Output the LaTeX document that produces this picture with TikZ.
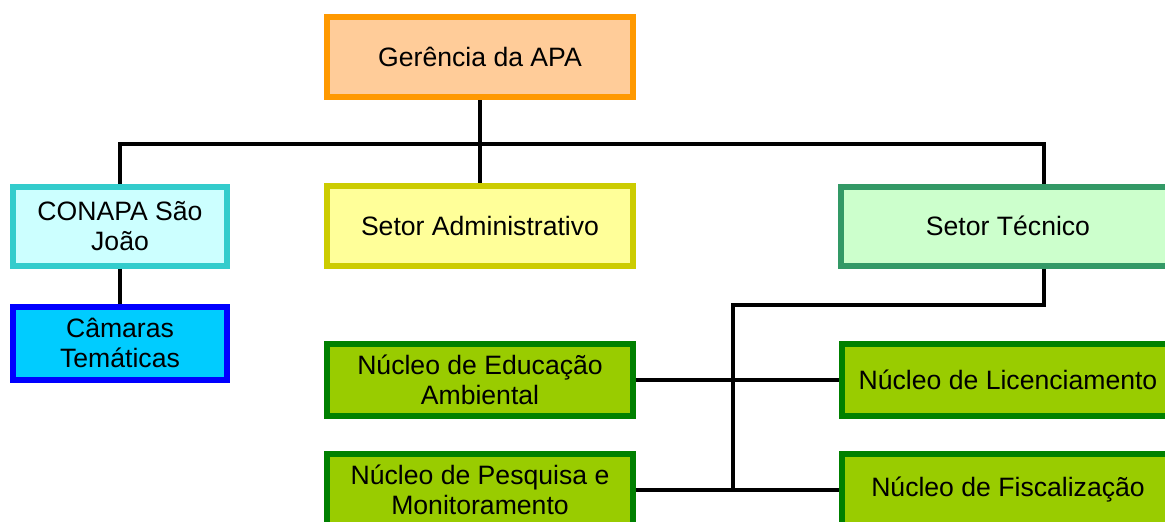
\documentclass[tikz,border=0pt]{standalone}
\usepackage{fontspec}
\setmainfont{Liberation Sans}
\usepackage{xcolor}
\usetikzlibrary{positioning, calc}
\definecolor{gerfill}{HTML}{FFCC99}
\definecolor{gerline}{HTML}{FF9900}
\definecolor{admfill}{HTML}{FFFF99}
\definecolor{admline}{HTML}{CCCC00}
\definecolor{confill}{HTML}{CCFFFF}
\definecolor{conline}{HTML}{33CCCC}
\definecolor{camfill}{HTML}{00CCFF}
\definecolor{camline}{HTML}{0000FF}
\definecolor{tecfill}{HTML}{CCFFCC}
\definecolor{tecline}{HTML}{339966}
\definecolor{nucfill}{HTML}{99CC00}
\definecolor{nucline}{HTML}{008000}
\tikzstyle{box} = [rectangle, draw, line width=3pt, align=center,
    inner sep=2pt, font=\fontsize{13.3}{15.2}\selectfont]
\tikzstyle{gerbox} = [box, fill=gerfill, draw=gerline, minimum width=153pt, minimum height=40pt]
\tikzstyle{admbox} = [box, fill=admfill, draw=admline, minimum width=153pt, minimum height=40pt]
\tikzstyle{conbox} = [box, fill=confill, draw=conline, minimum width=107pt, minimum height=39.5pt]
\tikzstyle{cambox} = [box, fill=camfill, draw=camline, minimum width=107pt, minimum height=36.5pt]
\tikzstyle{tecbox} = [box, fill=tecfill, draw=tecline, minimum width=167pt, minimum height=39.5pt]
\tikzstyle{nucbox} = [box, fill=nucfill, draw=nucline, minimum width=153pt, minimum height=36pt]
\tikzstyle{nucwide} = [nucbox, minimum width=166pt]
\tikzstyle{conn} = [line width=2pt, black]

\begin{document}
\begin{tikzpicture}[x=0.5pt, y=-0.5pt]
  \path[use as bounding box, fill=white] (0,0) rectangle (1165,521);
  % Management
  \node[gerbox] (ger) at (480,57) {Gerência da APA};
  % Sectors
  \node[admbox, below=41.5pt of ger] (adm) {Setor Administrativo};
  \node[conbox, left=47pt of adm] (conapa) {CONAPA São\\João};
  \node[tecbox, right=101pt of adm] (tec) {Setor Técnico};
  \node[cambox, below=17.5pt of conapa] (cam) {Câmaras\\Temáticas};
  % Nuclei
  \node[nucbox, below=36pt of adm] (edu) {Núcleo de Educação\\Ambiental};
  \node[nucbox, below=16pt of edu] (pesq) {Núcleo de Pesquisa e\\Monitoramento};
  \node[nucwide, right=101.5pt of edu] (lic) {Núcleo de Licenciamento};
  \node[nucwide, right=101.5pt of pesq] (fisc) {Núcleo de Fiscalização};

  % Top connections
  \coordinate (topbus) at ($(ger.south)!0.53!(adm.north)$);
  \draw[conn](ger.south)--(adm.north);
  \draw[conn](conapa.north) |- (topbus) -| ([xshift=18pt]tec.north);
  \draw[conn](conapa.south)--(cam.north);

  % Technical sector connections
  \coordinate (midbus) at ($(tec.south)!0.5!(lic.north)$);
  \coordinate (split) at ($(edu.east)!0.48!(lic.west)$);
  \draw[conn]([xshift=18pt]tec.south) |- (midbus) -| (split |- pesq.east);
  \draw[conn](edu.east)--(lic.west);
  \draw[conn](pesq.east)--(fisc.west);
\end{tikzpicture}
\end{document}
